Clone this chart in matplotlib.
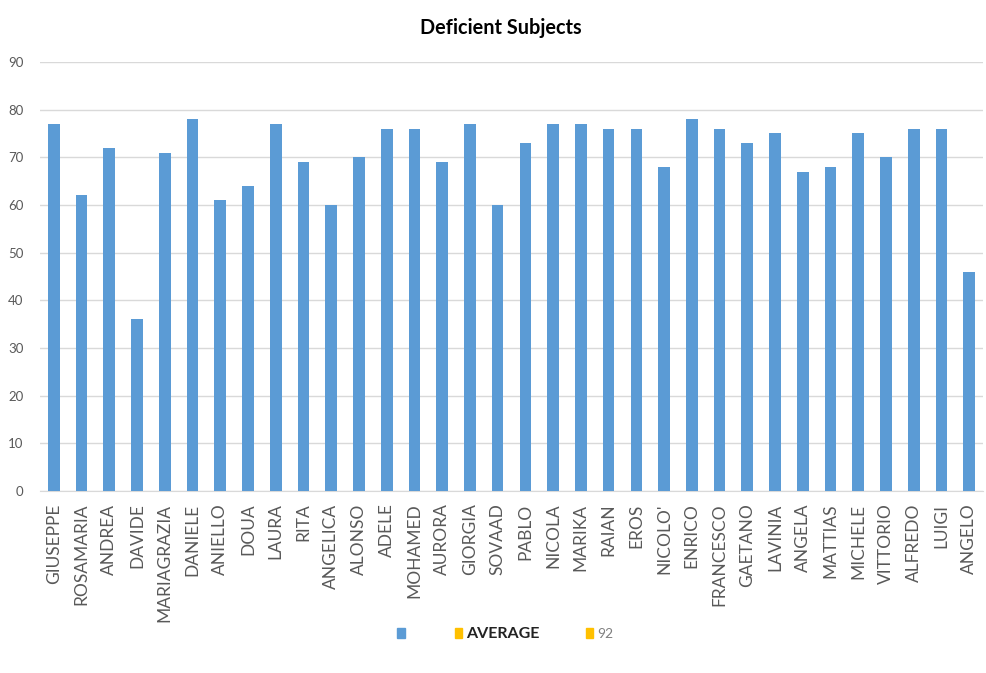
import matplotlib.pyplot as plt
from matplotlib.patches import Patch

names = ["GIUSEPPE", "ROSAMARIA", "ANDREA", "DAVIDE", "MARIAGRAZIA", "DANIELE",
         "ANIELLO", "DOUA", "LAURA", "RITA", "ANGELICA", "ALONSO", "ADELE",
         "MOHAMED", "AURORA", "GIORGIA", "SOVAAD", "PABLO", "NICOLA", "MARIKA",
         "RAIAN", "EROS", "NICOLO'", "ENRICO", "FRANCESCO", "GAETANO", "LAVINIA",
         "ANGELA", "MATTIAS", "MICHELE", "VITTORIO", "ALFREDO", "LUIGI", "ANGELO"]
scores = [77, 62, 72, 36, 71, 78, 61, 64, 77, 69, 60, 70, 76, 76, 69, 77, 60,
          73, 77, 77, 76, 76, 68, 78, 76, 73, 75, 67, 68, 75, 70, 76, 76, 46]
legend_labels = ["", "AVERAGE", "92"]

BLUE = "#5B9BD5"
ORANGE = "#FFC000"

plt.rcParams['font.family'] = ['Lato', 'DejaVu Sans']

fig = plt.figure(figsize=(9.87, 6.73), dpi=100)
ax = fig.add_axes([0.0405, 0.2704, 0.9555, 0.6375])

x = range(len(names))
ax.bar(x, scores, width=0.42, color=BLUE, zorder=3)

ax.set_xlim(-0.5, len(names) - 0.5)
ax.set_ylim(0, 90)
ax.set_yticks(range(0, 91, 10))
ax.yaxis.grid(True, color="#D9D9D9", linewidth=1, zorder=0)
ax.set_xticks(list(x))
ax.set_xticklabels(names, rotation=90, fontsize=12.5, color="#595959")
ax.tick_params(axis="y", labelsize=9.5, colors="#595959", length=0, pad=12)
ax.tick_params(axis="x", length=0, pad=9)
for side in ["top", "right", "left"]:
    ax.spines[side].set_visible(False)
ax.spines["bottom"].set_color("#D9D9D9")

fig.text(0.507, 0.958, "Deficient Subjects", ha="center", va="center",
         fontsize=14.3, fontweight="bold", color="#000000")

# legend: unlabelled series, bold AVERAGE, small grey 92
handles = [Patch(color=BLUE), Patch(color=ORANGE), Patch(color=ORANGE)]
leg = fig.legend(handles, legend_labels, loc="center", bbox_to_anchor=(0.512, 0.058),
                 ncol=3, frameon=False, handlelength=0.55, handleheight=0.8,
                 columnspacing=3.3, handletextpad=0.3, fontsize=10)
texts = leg.get_texts()
texts[1].set_fontweight("bold")
texts[1].set_fontsize(11.5)
texts[1].set_color("#222222")
texts[2].set_fontsize(10)
texts[2].set_color("#808080")

fig.savefig("out.png", dpi=100)
